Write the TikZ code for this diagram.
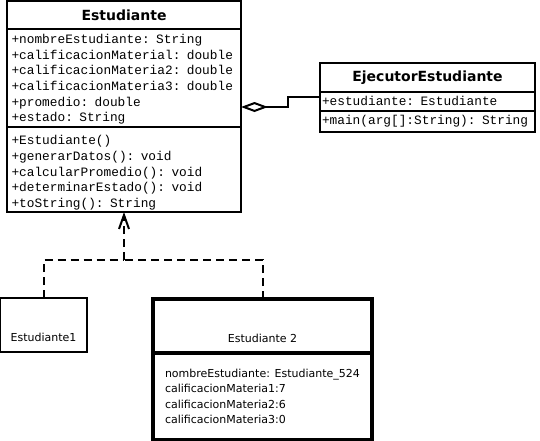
\documentclass[tikz,border=0pt]{standalone}
\usepackage{fontspec}
\setmainfont{DejaVu Sans}
\setmonofont{Liberation Mono}
\usetikzlibrary{positioning}
\usetikzlibrary{arrows.meta}

\begin{document}
\begin{tikzpicture}[x=1pt,y=-1pt,
        every node/.style={outer sep=0pt},
        classtitle/.style={draw,line width=2pt,inner sep=0pt,font=\fontsize{14}{16}\selectfont\bfseries},
        classpart/.style={draw,line width=2pt,inner ysep=0pt,align=left,font=\fontsize{12.8}{15.6}\selectfont\ttfamily},
        objhead/.style={draw,inner sep=0pt,text height=43pt,text depth=11pt,font=\fontsize{11}{13}\selectfont},
        objvals/.style={inner sep=0pt,align=left,font=\fontsize{11}{15.5}\selectfont},
        depline/.style={line width=2pt,dash pattern=on 8pt off 5pt},
        aggline/.style={line width=2pt}]

        \useasboundingbox (0,0) rectangle (540,440);

        % class Estudiante
        \node[classtitle,minimum width=234pt,minimum height=28pt,anchor=north west] (esttitle) at (7,1) {Estudiante};
        \node[classpart,text width=225pt,inner xsep=4.5pt,minimum height=98pt,below=0pt of esttitle] (estattr)
                {\rule{0pt}{12pt}+nombreEstudiante: String\\
                 +calificacionMaterial: double\\
                 +calificacionMateria2: double\\
                 +calificacionMateria3: double\\
                 +promedio: double\\
                 +estado: String};
        \node[classpart,text width=225pt,inner xsep=4.5pt,minimum height=85pt,below=0pt of estattr] (estmeth)
                {\rule{0pt}{16pt}+Estudiante()\\
                 +generarDatos(): void\\
                 +calcularPromedio(): void\\
                 +determinarEstado(): void\\
                 +toString(): String};

        % class EjecutorEstudiante
        \node[classtitle,minimum width=215pt,minimum height=28.4pt,anchor=north west] (ejtitle) at (320,63.3) {EjecutorEstudiante};
        \node[classpart,text width=211pt,inner xsep=2pt,minimum height=19.3pt,below=0pt of ejtitle] (ejattr)
                {+estudiante: Estudiante};
        \node[classpart,text width=211pt,inner xsep=2pt,minimum height=20.7pt,below=0pt of ejattr] (ejmeth)
                {+main(arg[]:String): String};

        % objects
        \node[objhead,line width=2.5pt,minimum width=87pt,anchor=north west] (est1) at (0,298) {Estudiante1};
        \node[objhead,line width=4pt,minimum width=219pt,anchor=north west] (est2) at (153,299) {Estudiante 2};
        \node[draw,line width=4pt,minimum width=219pt,minimum height=87pt,below=0pt of est2] (est2attr) {};
        \node[objvals,anchor=west] (est2vals) at ([xshift=12pt]est2attr.west)
                {nombreEstudiante: Estudiante\_524\\
                 calificacionMateria1:7\\
                 calificacionMateria2:6\\
                 calificacionMateria3:0};

        % aggregation
        \draw[aggline,{Diamond[open,length=27pt,width=10pt]}-] ([yshift=20pt]estattr.south east) -- ++(47,0) |- ([yshift=4.5pt]ejattr.west);

        % dependencies
        \coordinate (join) at ([yshift=-48pt]estmeth.south);
        \draw[depline] (est1.north) |- (join);
        \draw[depline] (est2.north) |- (join);
        \draw[depline,-{Straight Barb[length=14pt,width=10pt]}] (join) -- (estmeth.south);
\end{tikzpicture}
\end{document}
